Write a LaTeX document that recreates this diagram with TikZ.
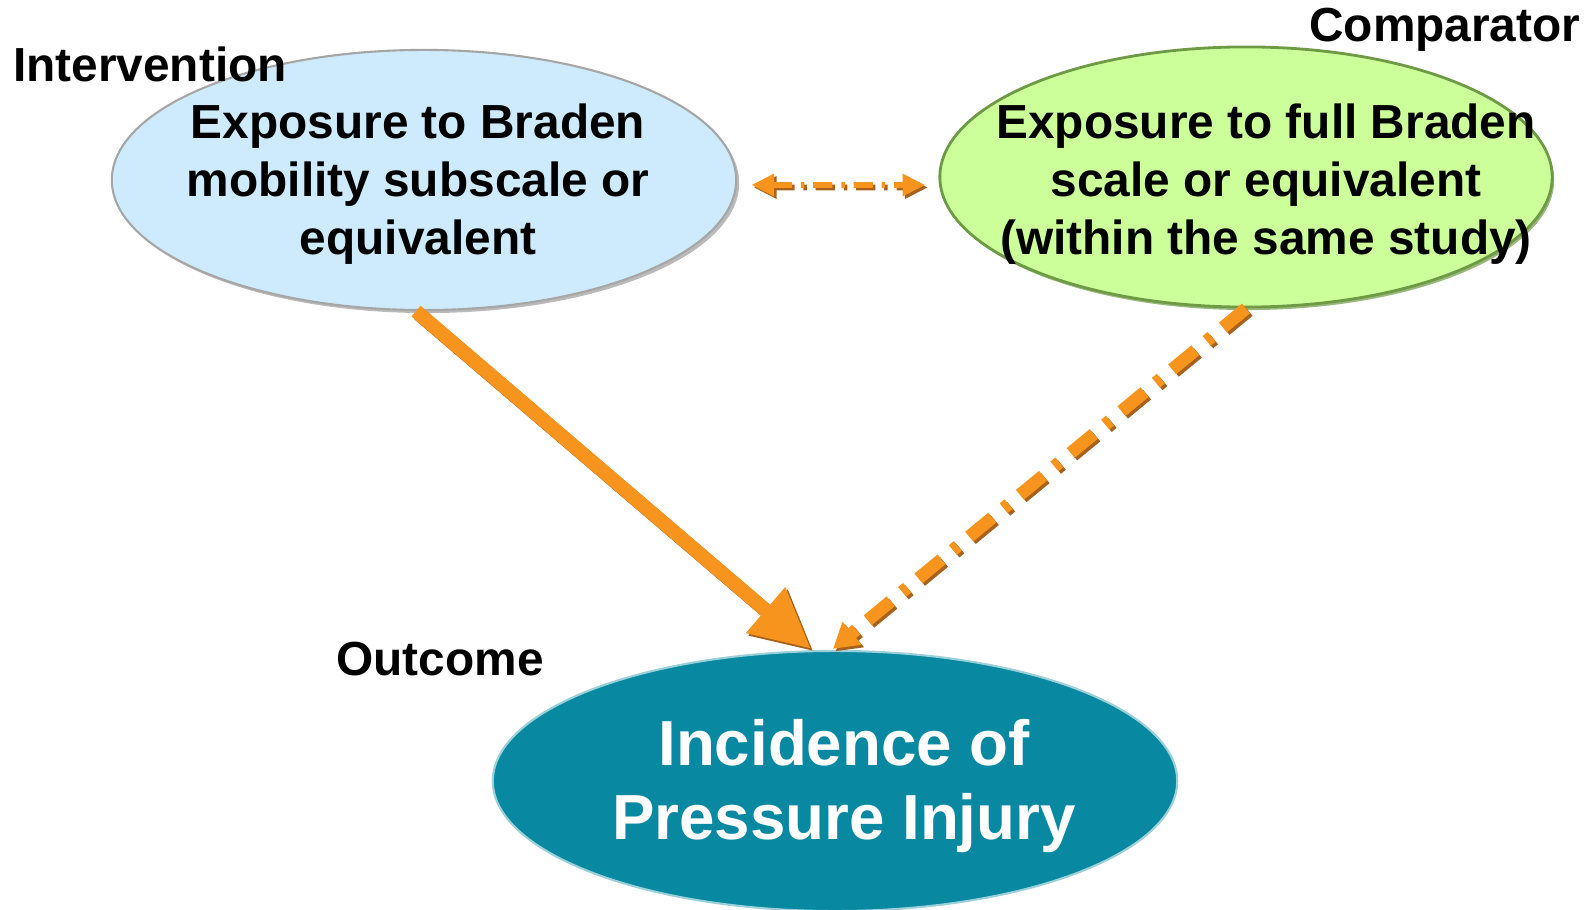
\documentclass[tikz,border=0pt]{standalone}
\usepackage{fontspec}
\setmainfont{Liberation Sans}
\usetikzlibrary{shapes.geometric,arrows.meta,shadows}
\definecolor{bluefill}{HTML}{CDEBFC}
\definecolor{greenfill}{HTML}{CCFF99}
\definecolor{greenline}{HTML}{6E9A45}
\definecolor{tealfill}{HTML}{0889A1}
\definecolor{orng}{HTML}{F7941D}
\definecolor{orngdark}{HTML}{A8611C}
\begin{document}
\begin{tikzpicture}[x=0.01cm,y=-0.01cm,
  oval/.style={ellipse,inner sep=0pt,minimum height=2.6cm},
  ovtext/.style={align=center,font=\fontsize{13.6}{16.5}\selectfont\bfseries},
  lab/.style={font=\fontsize{13.6}{16.5}\selectfont\bfseries,inner sep=0pt},
  mainarrow/.style={line width=4pt,-{Triangle[length=17pt,width=16pt]}},
  dotarrow/.style={line width=3.6pt,dash pattern=on 8.5pt off 4.2pt on 1.8pt off 4.2pt,-{Triangle[length=7pt,width=8pt]}},
  duoarrow/.style={line width=1.7pt,dash pattern=on 5.5pt off 2.5pt on 1pt off 2.5pt,{Triangle[length=6.5pt,width=6pt]}-{Triangle[length=6.5pt,width=6pt]}},
  shad/.style={orngdark,transform canvas={xshift=0.025cm,yshift=-0.025cm}}
]
\useasboundingbox (0,0) rectangle (1589,910);

\node[oval,minimum width=6.24cm,fill=bluefill,draw=black!35,line width=0.6pt,
  drop shadow={shadow xshift=0.03cm,shadow yshift=-0.03cm,fill=black!45,opacity=.6}] (blue) at (424,180) {};
\node[oval,minimum width=6.12cm,fill=greenfill,draw=greenline,line width=0.8pt,
  drop shadow={shadow xshift=0.02cm,shadow yshift=-0.03cm,fill=greenline,opacity=.7}] (green) at (1246,177) {};
\node[oval,minimum width=6.84cm,fill=tealfill,draw=tealfill!40,line width=0.6pt] (teal) at (835,781) {};

\node[ovtext] (bluetext) at (418,184) {Exposure to Braden\\mobility subscale or\\equivalent};
\node[ovtext] (greentext) at (1266,184) {Exposure to full Braden\\scale or equivalent\\(within the same study)};
\node[align=center,text=white,font=\fontsize{18.1}{21}\selectfont\bfseries] (tealtext) at (844,786) {Incidence of\\Pressure Injury};

\node[lab] (intv) at (150,64) {Intervention};
\node[lab,anchor=east] (comp) at (1581,30) {Comparator};
\node[lab] (outc) at (440,659) {Outcome};

% main arrow with shadow
\draw[mainarrow,shad] ([xshift=-0.08cm]blue.south) -- ([xshift=-0.24cm,yshift=0.01cm]teal.north);
\draw[mainarrow,orng] ([xshift=-0.08cm]blue.south) -- ([xshift=-0.24cm,yshift=0.01cm]teal.north);

% dash-dot arrow with shadow
\draw[dotarrow,shad] (green.south) -- ([xshift=-0.02cm,yshift=0.01cm]teal.north);
\draw[dotarrow,orng] (green.south) -- ([xshift=-0.02cm,yshift=0.01cm]teal.north);

% double arrow with shadow
\draw[duoarrow,shad] ([xshift=0.14cm,yshift=-0.05cm]blue.east) -- ([xshift=-0.13cm,yshift=-0.08cm]green.west);
\draw[duoarrow,orng] ([xshift=0.14cm,yshift=-0.05cm]blue.east) -- ([xshift=-0.13cm,yshift=-0.08cm]green.west);
\end{tikzpicture}
\end{document}
